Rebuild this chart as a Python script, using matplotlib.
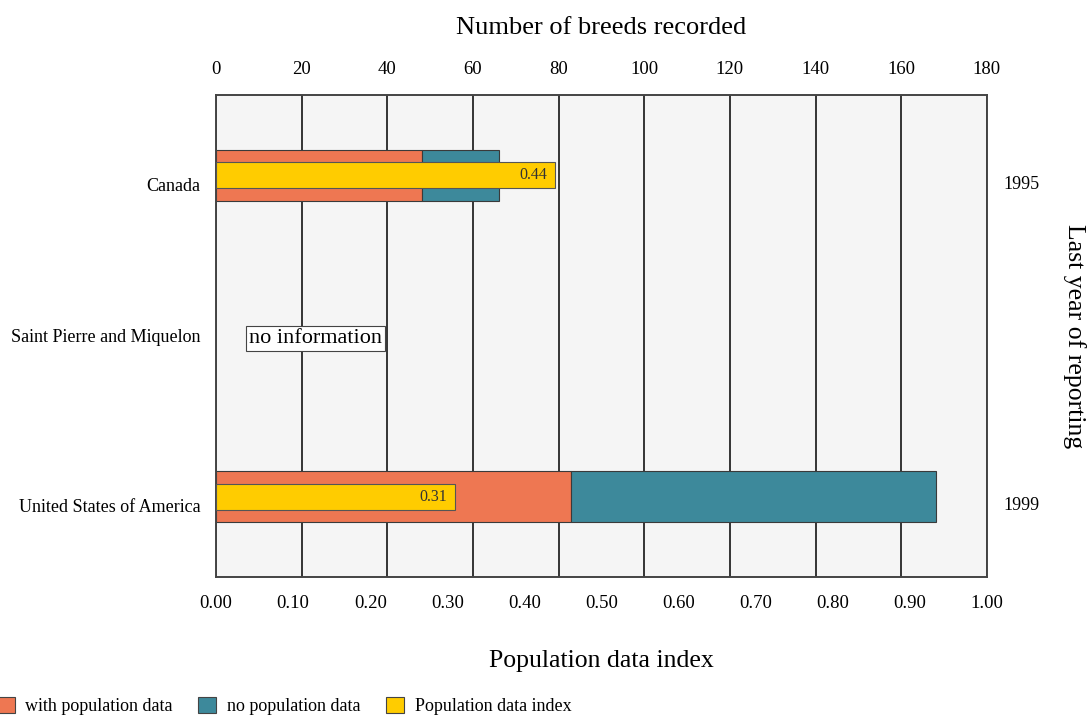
import matplotlib.pyplot as plt
import matplotlib.transforms as mtransforms
import numpy as np

plt.rcParams['font.family'] = ['Liberation Serif', 'DejaVu Serif']

countries = ['Canada', 'Saint Pierre and Miquelon', 'United States of America']
with_pop = [48, np.nan, 83]
no_pop = [18, np.nan, 85]
pop_index = [0.44, np.nan, 0.31]
last_year = ['1995', '', '1999']

c_with = '#EE7752'
c_no = '#3D899B'
c_idx = '#FFCC00'
edge = '#3a3a3a'

fig = plt.figure(figsize=(10.92, 7.2), dpi=100)
ax = fig.add_axes([0.1978, 0.1986, 0.706, 0.6695])
ax.set_facecolor('#F5F5F5')

y = np.arange(len(countries))

# breeds bars (top scale)
ax.barh(y, with_pop, height=0.317, color=c_with, edgecolor=edge, linewidth=0.8, zorder=2)
ax.barh(y, no_pop, left=with_pop, height=0.317, color=c_no, edgecolor=edge, linewidth=0.8, zorder=2)
ax.set_xlim(0, 180)
ax.set_ylim(2.5, -0.5)
ax.grid(axis='x', color='black', linewidth=1.1, zorder=0)
ax.set_axisbelow(True)

# index bars (bottom scale)
ax2 = ax.twiny()
ax2.set_xlim(0, 1)
ax2.xaxis.tick_bottom()
ax2.xaxis.set_label_position('bottom')
ax2.set_xticks(np.arange(0, 1.01, 0.1))
ax2.set_xticklabels([f'{v:.2f}' for v in np.arange(0, 1.01, 0.1)])
ax2.tick_params(length=0, pad=13, labelsize=13.5)
ax2.set_xlabel('Population data index', fontsize=18.5, labelpad=27)
ax2.barh(y, pop_index, height=0.16, color=c_idx, edgecolor='#555555', linewidth=0.8, zorder=3)
for yi, v in zip(y, pop_index):
    if not np.isnan(v):
        ax2.text(v - 0.01, yi, f'{v:.2f}', ha='right', va='center', fontsize=11.5, color='#333333', zorder=4)

ax2.text(0.043, 1, 'no information', ha='left', va='center_baseline', fontsize=16,
         bbox=dict(boxstyle='square,pad=0.15', facecolor='white', edgecolor='#444444', linewidth=0.8))

# top axis set after twiny (twiny resets the original to bottom)
ax.set_xticks(np.arange(0, 181, 20))
ax.xaxis.tick_top()
ax.xaxis.set_label_position('top')
ax.set_xlabel('Number of breeds recorded', fontsize=19, labelpad=20)
ax.set_yticks(y)
ax.set_yticklabels(countries, fontsize=13)
ax.tick_params(length=0, labelsize=13.5)
ax.tick_params(axis='x', pad=12)
ax.tick_params(axis='y', pad=11, labelsize=13)
shift = mtransforms.ScaledTranslation(0, -0.09, fig.dpi_scale_trans)
for lab in ax.get_yticklabels():
    if lab.get_text() != 'Saint Pierre and Miquelon':
        lab.set_transform(lab.get_transform() + shift)

for a in (ax, ax2):
    for s in a.spines.values():
        s.set_color('#444444')
        s.set_linewidth(1.2)

for yi, yr in zip(y, last_year):
    ax.text(1.045, yi, yr, transform=ax.get_yaxis_transform() + shift,
            ha='center', va='center', fontsize=13)
ax.text(1.114, 0.5, 'Last year of reporting', transform=ax.transAxes, rotation=270,
        ha='center', va='center', fontsize=18.5)

handles = [plt.Rectangle((0, 0), 1, 1, facecolor=c, edgecolor='#444444', linewidth=0.8)
           for c in (c_with, c_no, c_idx)]
fig.legend(handles, ['with population data', 'no population data', 'Population data index'],
           loc='center left', bbox_to_anchor=(-0.018, 0.019), ncol=3, frameon=False,
           fontsize=13, handlelength=1.0, handleheight=1.0, handletextpad=0.6, columnspacing=1.4)

fig.savefig('out.png', dpi=100)
